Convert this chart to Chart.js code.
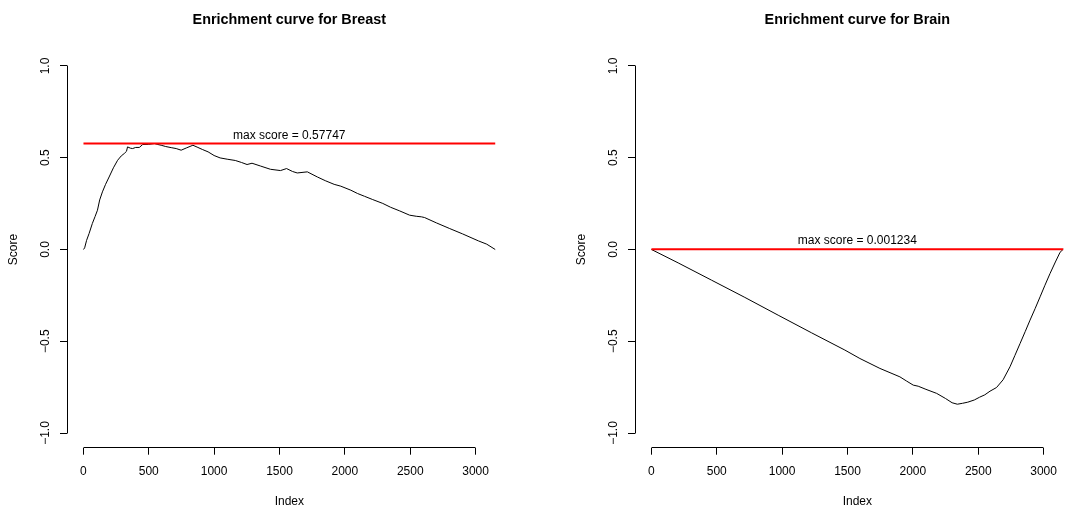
<!DOCTYPE html>
<html>
<head>
<meta charset="utf-8">
<script src="https://cdn.jsdelivr.net/npm/chart.js@4.4.0/dist/chart.umd.min.js"></script>
<style>
  html, body { margin: 0; padding: 0; background: #fff; overflow: hidden; }
  #wrap { position: relative; width: 1075px; height: 508px; overflow: hidden; }
  .panel { position: absolute; top: 0; width: 537px; height: 508px; }
  #breastPanel { left: 0; }
  #brainPanel { left: 568px; }
</style>
</head>
<body>
<div id="wrap">
  <div class="panel" id="breastPanel"><canvas id="breastChart" width="537" height="508"></canvas></div>
  <div class="panel" id="brainPanel"><canvas id="brainChart" width="537" height="508"></canvas></div>
</div>
<script>
// running enrichment score along the ranked list (sampled)
const breastIndex = [1, 10, 25, 44, 69, 90, 108, 125, 146, 170, 197, 230, 262, 290, 313, 330, 338, 360, 377, 400,
  428, 454, 500, 544, 570, 595, 630, 672, 710, 748, 787, 838, 870, 910, 954, 1000, 1046, 1100, 1162, 1210,
  1252, 1290, 1354, 1431, 1508, 1554, 1600, 1636, 1713, 1790, 1850, 1918, 1969, 2046, 2097, 2150, 2213, 2290, 2350, 2420,
  2495, 2546, 2585, 2610, 2700, 2802, 2900, 3021, 3085, 3150];
const breastScore = [0.0, 0.009, 0.05, 0.087, 0.142, 0.18, 0.214, 0.27, 0.314, 0.355, 0.395, 0.445, 0.486, 0.51, 0.523, 0.535, 0.559, 0.552, 0.55, 0.556,
  0.556, 0.572, 0.573, 0.57747, 0.572, 0.568, 0.561, 0.555, 0.55, 0.541, 0.553, 0.568, 0.558, 0.545, 0.532, 0.512, 0.499, 0.492, 0.485, 0.474,
  0.463, 0.470, 0.455, 0.437, 0.430, 0.441, 0.425, 0.417, 0.423, 0.395, 0.375, 0.355, 0.345, 0.323, 0.305, 0.29, 0.272, 0.251, 0.23, 0.21,
  0.187, 0.181, 0.178, 0.174, 0.145, 0.114, 0.085, 0.047, 0.029, 0.0];
const breastMax = 0.57747;

const brainIndex = [1, 205, 460, 715, 970, 1225, 1480, 1595, 1748, 1901, 1950, 2003, 2041, 2100, 2182, 2250, 2300, 2340, 2380, 2420,
  2470, 2510, 2550, 2590, 2640, 2690, 2743, 2780, 2820, 2860, 2896, 2935, 2973, 3010, 3049, 3090, 3126, 3150];
const brainScore = [0, -0.073, -0.167, -0.261, -0.358, -0.454, -0.548, -0.594, -0.648, -0.694, -0.716, -0.739, -0.745, -0.762, -0.784, -0.812, -0.835, -0.843, -0.838, -0.832,
  -0.82, -0.805, -0.792, -0.772, -0.752, -0.71, -0.639, -0.578, -0.512, -0.446, -0.385, -0.322, -0.258, -0.195, -0.131, -0.068, -0.015, 0.001234];
const brainMax = 0.001234;

const geneCount = 3150;
const indexTicks = [0, 500, 1000, 1500, 2000, 2500, 3000];
const scoreTicks = [-1, -0.5, 0, 0.5, 1];
const scoreTickLabels = ['\u22121.0', '\u22120.5', '0.0', '0.5', '1.0'];

const FONT = 'Liberation Sans, Arial, Helvetica, sans-serif';

function alignPx(p) {
  return Math.round(p - 0.5) + 0.5;
}

// base-graphics style axes: line only between first and last tick, rotated y labels,
// plus the "max score" note above the red line
const baseAxes = {
  id: 'baseAxes',
  afterDraw(chart, args, opts) {
    const { ctx } = chart;
    const x = chart.scales.x, y = chart.scales.y;
    ctx.save();
    ctx.strokeStyle = '#000';
    ctx.lineWidth = 1;
    ctx.beginPath();
    const xy = alignPx(x.top);
    ctx.moveTo(alignPx(x.getPixelForValue(indexTicks[0])), xy);
    ctx.lineTo(alignPx(x.getPixelForValue(indexTicks[indexTicks.length - 1])), xy);
    const yx = alignPx(y.right);
    ctx.moveTo(yx, alignPx(y.getPixelForValue(scoreTicks[0])));
    ctx.lineTo(yx, alignPx(y.getPixelForValue(scoreTicks[scoreTicks.length - 1])));
    ctx.stroke();

    ctx.fillStyle = '#000';
    ctx.font = '12px ' + FONT;
    ctx.textAlign = 'center';
    ctx.textBaseline = 'alphabetic';
    scoreTicks.forEach((v, i) => {
      ctx.save();
      ctx.translate(y.right - 18.4, y.getPixelForValue(v));
      ctx.rotate(-Math.PI / 2);
      ctx.fillText(scoreTickLabels[i], 0, 0);
      ctx.restore();
    });

    ctx.fillText('max score = ' + opts.maxScore,
      x.getPixelForValue(geneCount / 2), y.getPixelForValue(opts.maxScore) - 5);
    ctx.restore();
  }
};

function makeCurveChart(canvasId, titleText, idx, score, maxScore) {
  const curve = idx.map((v, i) => ({ x: v, y: score[i] }));
  const maxLine = [{ x: 1, y: maxScore }, { x: geneCount, y: maxScore }];
  const tickFont = { family: FONT, size: 12 };

  return new Chart(document.getElementById(canvasId), {
    type: 'line',
    data: {
      datasets: [{
        data: maxLine,
        borderColor: '#ff0000',
        borderWidth: 2,
        pointRadius: 0,
        order: 0
      }, {
        data: curve,
        borderColor: '#000000',
        borderWidth: 1,
        pointRadius: 0,
        tension: 0,
        order: 1
      }]
    },
    options: {
      responsive: false,
      animation: false,
      devicePixelRatio: 1,
      layout: { padding: { left: 0, right: 25.3, top: 0, bottom: 0 } },
      plugins: {
        legend: { display: false },
        tooltip: { enabled: false },
        title: {
          display: true,
          text: titleText,
          color: '#000',
          fullSize: false,
          font: { family: FONT, size: 14.4, weight: 'bold', lineHeight: 1.2 },
          padding: { top: 11.4, bottom: 22.6 }
        },
        baseAxes: { maxScore: maxScore }
      },
      scales: {
        x: {
          type: 'linear',
          min: 1 - 0.04 * (geneCount - 1),
          max: geneCount + 0.04 * (geneCount - 1),
          afterBuildTicks: s => { s.ticks = indexTicks.map(v => ({ value: v })); },
          afterFit: s => { s.height = 60.3; },
          border: { display: false },
          grid: { drawOnChartArea: false, drawTicks: true, tickLength: 7, color: '#000', lineWidth: 1 },
          ticks: {
            color: '#000', font: tickFont, padding: 10, maxRotation: 0, autoSkip: false,
            callback: v => String(v)
          },
          title: {
            display: true, text: 'Index', color: '#000',
            font: { family: FONT, size: 12, lineHeight: 1 }, padding: { top: 0, bottom: 0 }
          }
        },
        y: {
          type: 'linear',
          min: -1.08,
          max: 1.08,
          afterBuildTicks: s => { s.ticks = scoreTicks.map(v => ({ value: v })); },
          afterFit: s => { s.width = 67; },
          border: { display: false },
          grid: { drawOnChartArea: false, drawTicks: true, tickLength: 7, color: '#000', lineWidth: 1 },
          ticks: { display: false },
          title: {
            display: true, text: 'Score', color: '#000',
            font: { family: FONT, size: 12, lineHeight: 1.2 }, padding: { top: 6, bottom: 0 }
          }
        }
      }
    },
    plugins: [baseAxes]
  });
}

makeCurveChart('breastChart', 'Enrichment curve for Breast', breastIndex, breastScore, breastMax);
makeCurveChart('brainChart', 'Enrichment curve for Brain', brainIndex, brainScore, brainMax);
</script>
</body>
</html>
